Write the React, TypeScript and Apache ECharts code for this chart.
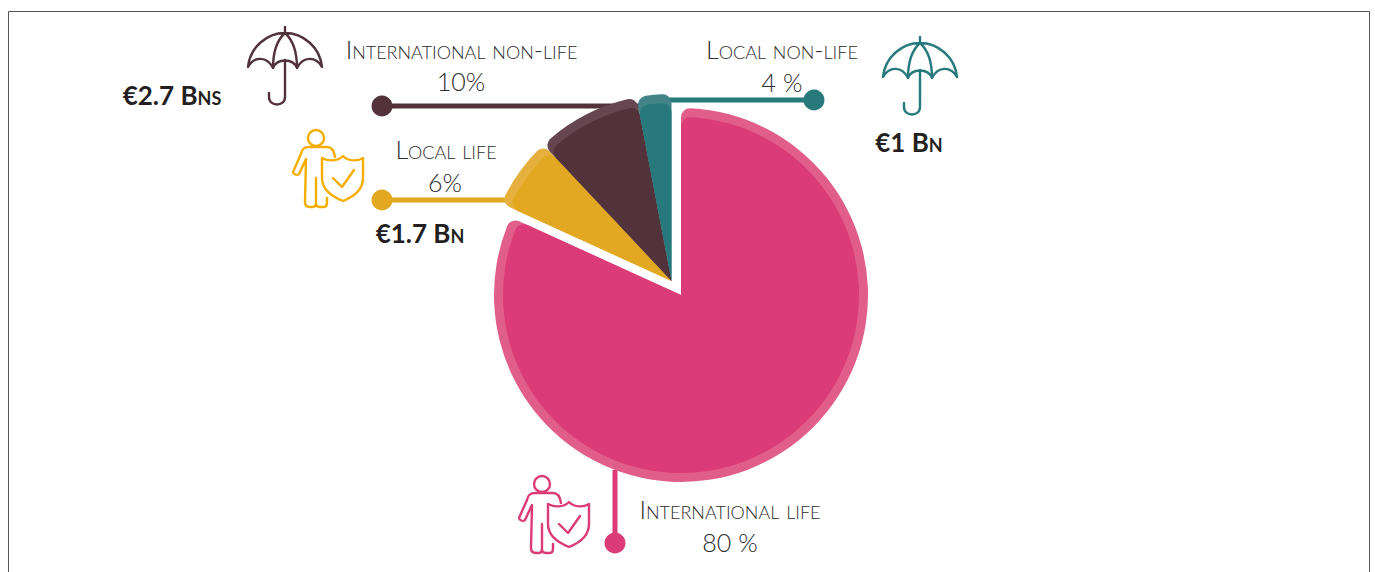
import React, { useEffect, useRef } from "react";
import * as echarts from "echarts";

// Wedge shares (percent of the circle) as drawn in the picture
const categories = ["International life", "Local life", "International non-life", "Local non-life"];
const sliceShares = [81.8, 6.2, 9.0, 3.0];
const shareLabels = ["80 %", "6%", "10%", "4 %"];
const amountLabels = ["€21.6 Bns", "€1.7 Bn", "€2.7 Bns", "€1 Bn"];
const mainColors = ["#db3b76", "#e3a822", "#52323b", "#27797b"];
const rimColors = ["#e05e89", "#e6b03e", "#664650", "#428488"];
const iconColors = ["#db3b76", "#f5ae00", "#52323b", "#27797b"];

const UMBRELLA =
  "M0 0 V6 M-37 40 C-35 20 -18 6 0 6 C18 6 35 20 37 40 C31 29 18 29 12 41 C8 31 -8 31 -12 41 C-18 29 -31 29 -37 40 Z M0 6 C-9 14 -12 28 -12 41 M0 6 C9 14 12 28 12 41 M0 33 V70 C0 80 -16 80 -16 70 V66";
const GUARD =
  "M31 8 C31 12.4 27.4 16 23 16 C18.6 16 15 12.4 15 8 C15 3.6 18.6 0 23 0 C27.4 0 31 3.6 31 8 Z " +
  "M42 27 C41 20 38 17 34 17 L16 17 C11 17 9 19 8 24 L0 42 C0 44 4 46 6 44 L13 29 L12 72 C12 75 14 77 17 77 L20 77 C22 77 23 75 23 73 V48 M23 73 C23 75 24 77 27 77 H31 C33 77 34 75 34 72 V68 " +
  "M29 28 C35 31 44 32 50 26 C56 32 65 31 70 28 V48 C70 60 60 67 50 71 C40 67 29 60 29 48 Z M40 48 L49 57 L61 40";

echarts.graphic.registerShape("umbrella", echarts.graphic.extendPath(UMBRELLA, {}) as any);
echarts.graphic.registerShape("guard", echarts.graphic.extendPath(GUARD, {}) as any);

const FONT = "Lato, 'Open Sans', sans-serif";

const wedgeSeries = (
  show: number[],
  center: number[],
  radius: number,
  colors: string[],
  corner: number,
  z: number
) => ({
  type: "pie",
  silent: true,
  clockwise: true,
  startAngle: 90,
  center,
  radius: [0, radius],
  z,
  label: { show: false },
  labelLine: { show: false },
  emphasis: { disabled: true },
  itemStyle: { borderRadius: [0, corner], borderWidth: 0 },
  data: categories.map((name, i) => ({
    name,
    value: sliceShares[i],
    itemStyle: show.includes(i) ? { color: colors[i] } : { color: "rgba(0,0,0,0)" },
  })),
});

const nameText = (text: string, x: number, y: number) => ({
  type: "text",
  x,
  y,
  style: { text, fill: "#2e2c2d", font: `small-caps 300 25px ${FONT}`, textAlign: "center", textVerticalAlign: "middle" },
});
const shareText = (text: string, x: number, y: number) => ({
  type: "text",
  x,
  y,
  style: { text, fill: "#2e2c2d", font: `300 25px ${FONT}`, textAlign: "center", textVerticalAlign: "middle" },
});
const amountText = (text: string, x: number, y: number, fill = "#231f20") => ({
  type: "text",
  x,
  y,
  style: { text, fill, font: `small-caps 700 26px ${FONT}`, textAlign: "center", textVerticalAlign: "middle" },
});
const leader = (x1: number, y1: number, x2: number, y2: number, color: string) => ({
  type: "line",
  z: 1,
  shape: { x1, y1, x2, y2 },
  style: { stroke: color, lineWidth: 5 },
});
const dot = (cx: number, cy: number, color: string) => ({
  type: "circle",
  z: 5,
  shape: { cx, cy, r: 10.5 },
  style: { fill: color },
});
const icon = (type: string, x: number, y: number, color: string) => ({
  type,
  x,
  y,
  style: { stroke: color, fill: "none", lineWidth: 2.4, lineCap: "round", lineJoin: "round" },
});

export default function App() {
  const ref = useRef<HTMLDivElement>(null);
  useEffect(() => {
    const chart = echarts.init(ref.current!, undefined, { renderer: "svg" });
    chart.setOption({
      animation: false,
      backgroundColor: "#ffffff",
      series: [
        wedgeSeries([0], [681, 295], 187, rimColors, 9, 2),
        wedgeSeries([0], [681, 295], 178, mainColors, 9, 3),
        wedgeSeries([1, 2, 3], [671.5, 281], 187, rimColors, 9, 2),
        wedgeSeries([1, 2, 3], [671.5, 281], 178, mainColors, 9, 3),
      ],
      graphic: {
        elements: [
          { type: "rect", z: 0, shape: { x: 8.5, y: 11.5, width: 1361, height: 600 }, style: { fill: "none", stroke: "#555555", lineWidth: 1 } },
          leader(382, 106, 640, 106, mainColors[2]),
          leader(814, 100, 660, 100, mainColors[3]),
          leader(382, 200, 512, 200, mainColors[1]),
          leader(615, 470, 615, 543, mainColors[0]),
          dot(382, 106, mainColors[2]),
          dot(814, 100, mainColors[3]),
          dot(382, 200, mainColors[1]),
          dot(615, 543, mainColors[0]),
          icon("umbrella", 285, 27, iconColors[2]),
          icon("umbrella", 920, 37, iconColors[3]),
          icon("guard", 293, 130, iconColors[1]),
          icon("guard", 519, 476, iconColors[0]),
          nameText(categories[2], 461.5, 49),
          shareText(shareLabels[2], 461, 81),
          nameText(categories[3], 782, 49),
          shareText(shareLabels[3], 782, 82),
          nameText(categories[1], 446, 149),
          shareText(shareLabels[1], 445, 182),
          nameText(categories[0], 730, 509),
          shareText(shareLabels[0], 730, 542),
          amountText(amountLabels[2], 172, 95),
          amountText(amountLabels[1], 420, 233),
          amountText(amountLabels[3], 909, 142),
          amountText(amountLabels[0], 676, 358, "#ffffff"),
        ],
      },
    });
    return () => chart.dispose();
  }, []);
  return <div ref={ref} style={{ position: "absolute", left: 0, top: 0, width: 1375, height: 572 }} />;
}
